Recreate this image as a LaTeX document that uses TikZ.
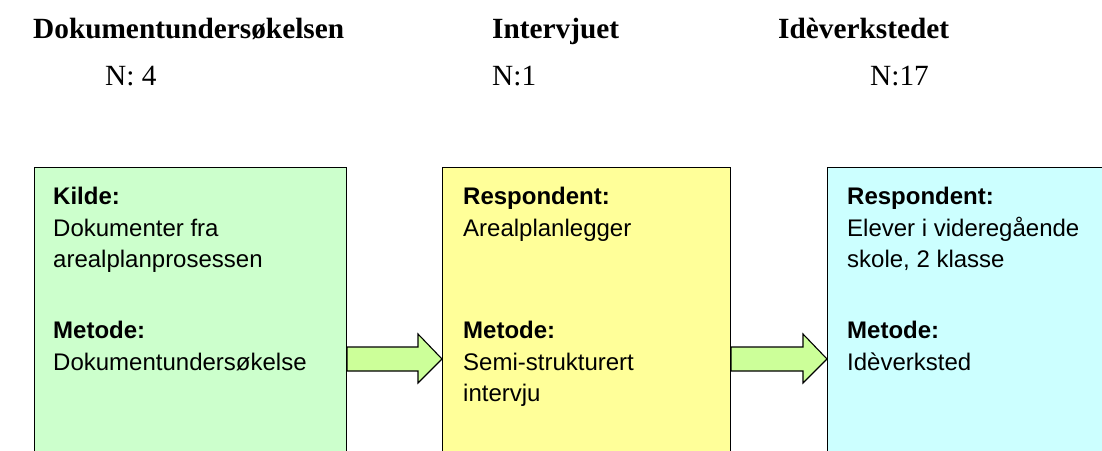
\documentclass[tikz,border=0pt]{standalone}
\usepackage{fontspec}
\setmainfont{Liberation Serif}
\setsansfont{Liberation Sans}
\usetikzlibrary{calc}

\definecolor{srcgreen}{HTML}{CCFFCC}
\definecolor{intyellow}{HTML}{FFFF99}
\definecolor{wscyan}{HTML}{CCFFFF}
\definecolor{arrowlime}{HTML}{CCFF99}

\tikzset{
  stagebox/.style={draw=black, line width=1.1pt, anchor=north west,
    inner sep=0pt, minimum height=320pt},
  heading/.style={anchor=base west, inner sep=0pt,
    font=\fontsize{29.3}{34}\selectfont\bfseries},
  count/.style={anchor=base west, inner sep=0pt,
    font=\fontsize{29.3}{34}\selectfont},
  bodyline/.style={anchor=base west, inner sep=0pt,
    font=\sffamily\fontsize{24}{30}\selectfont},
  fatarrow/.style={draw=black, line width=1.1pt, fill=arrowlime, line join=miter}
}

\begin{document}
\begin{tikzpicture}[x=1pt, y=-1pt]
  \useasboundingbox (0,0) rectangle (1102,450);
  \clip (0,0) rectangle (1102,450);

  % column headings
  \node[heading] (h1) at (33,38) {Dokumentundersøkelsen};
  \node[heading] (h2) at (492,38) {Intervjuet};
  \node[heading] (h3) at (778,38) {Idèverkstedet};
  \node[count] (n1) at (105,85) {N: 4};
  \node[count] (n2) at (492,85) {N:1};
  \node[count] (n3) at (870,85) {N:17};

  % the three stages
  \node[stagebox, fill=srcgreen, minimum width=312pt] (b1) at (34,167) {};
  \node[stagebox, fill=intyellow, minimum width=288pt] (b2) at (442,167) {};
  \node[stagebox, fill=wscyan, minimum width=290pt] (b3) at (827,167) {};

  % stage 1 text
  \node[bodyline] (t11) at (53,204) {\bfseries Kilde:};
  \node[bodyline] (t12) at (53,236) {Dokumenter fra};
  \node[bodyline] (t13) at (53,267) {arealplanprosessen};
  \node[bodyline] (t14) at (53,338) {\bfseries Metode:};
  \node[bodyline] (t15) at (53,370) {Dokumentundersøkelse};

  % stage 2 text
  \node[bodyline] (t21) at (463,204) {\bfseries Respondent:};
  \node[bodyline] (t22) at (463,236) {Arealplanlegger};
  \node[bodyline] (t23) at (463,338) {\bfseries Metode:};
  \node[bodyline] (t24) at (463,370) {Semi-strukturert};
  \node[bodyline] (t25) at (463,401) {intervju};

  % stage 3 text
  \node[bodyline] (t31) at (847,204) {\bfseries Respondent:};
  \node[bodyline] (t32) at (847,236) {Elever i videregående};
  \node[bodyline] (t33) at (847,267) {skole, 2 klasse};
  \node[bodyline] (t34) at (847,338) {\bfseries Metode:};
  \node[bodyline] (t35) at (847,370) {Idèverksted};

  % block arrows between the stages
  \coordinate (a1s) at (b1.north east |- 0,359);
  \coordinate (a1e) at (b2.north west |- 0,359);
  \coordinate (a2s) at (b2.north east |- 0,359);
  \coordinate (a2e) at (b3.north west |- 0,359);

  \draw[fatarrow] ($(a1s)+(0,-12)$) -- ($(a1e)+(-24,-12)$) -- ($(a1e)+(-24,-25)$)
    -- (a1e) -- ($(a1e)+(-24,24)$) -- ($(a1e)+(-24,12)$) -- ($(a1s)+(0,12)$) -- cycle;
  \draw[fatarrow] ($(a2s)+(0,-12)$) -- ($(a2e)+(-24,-12)$) -- ($(a2e)+(-24,-25)$)
    -- (a2e) -- ($(a2e)+(-24,24)$) -- ($(a2e)+(-24,12)$) -- ($(a2s)+(0,12)$) -- cycle;
\end{tikzpicture}
\end{document}
